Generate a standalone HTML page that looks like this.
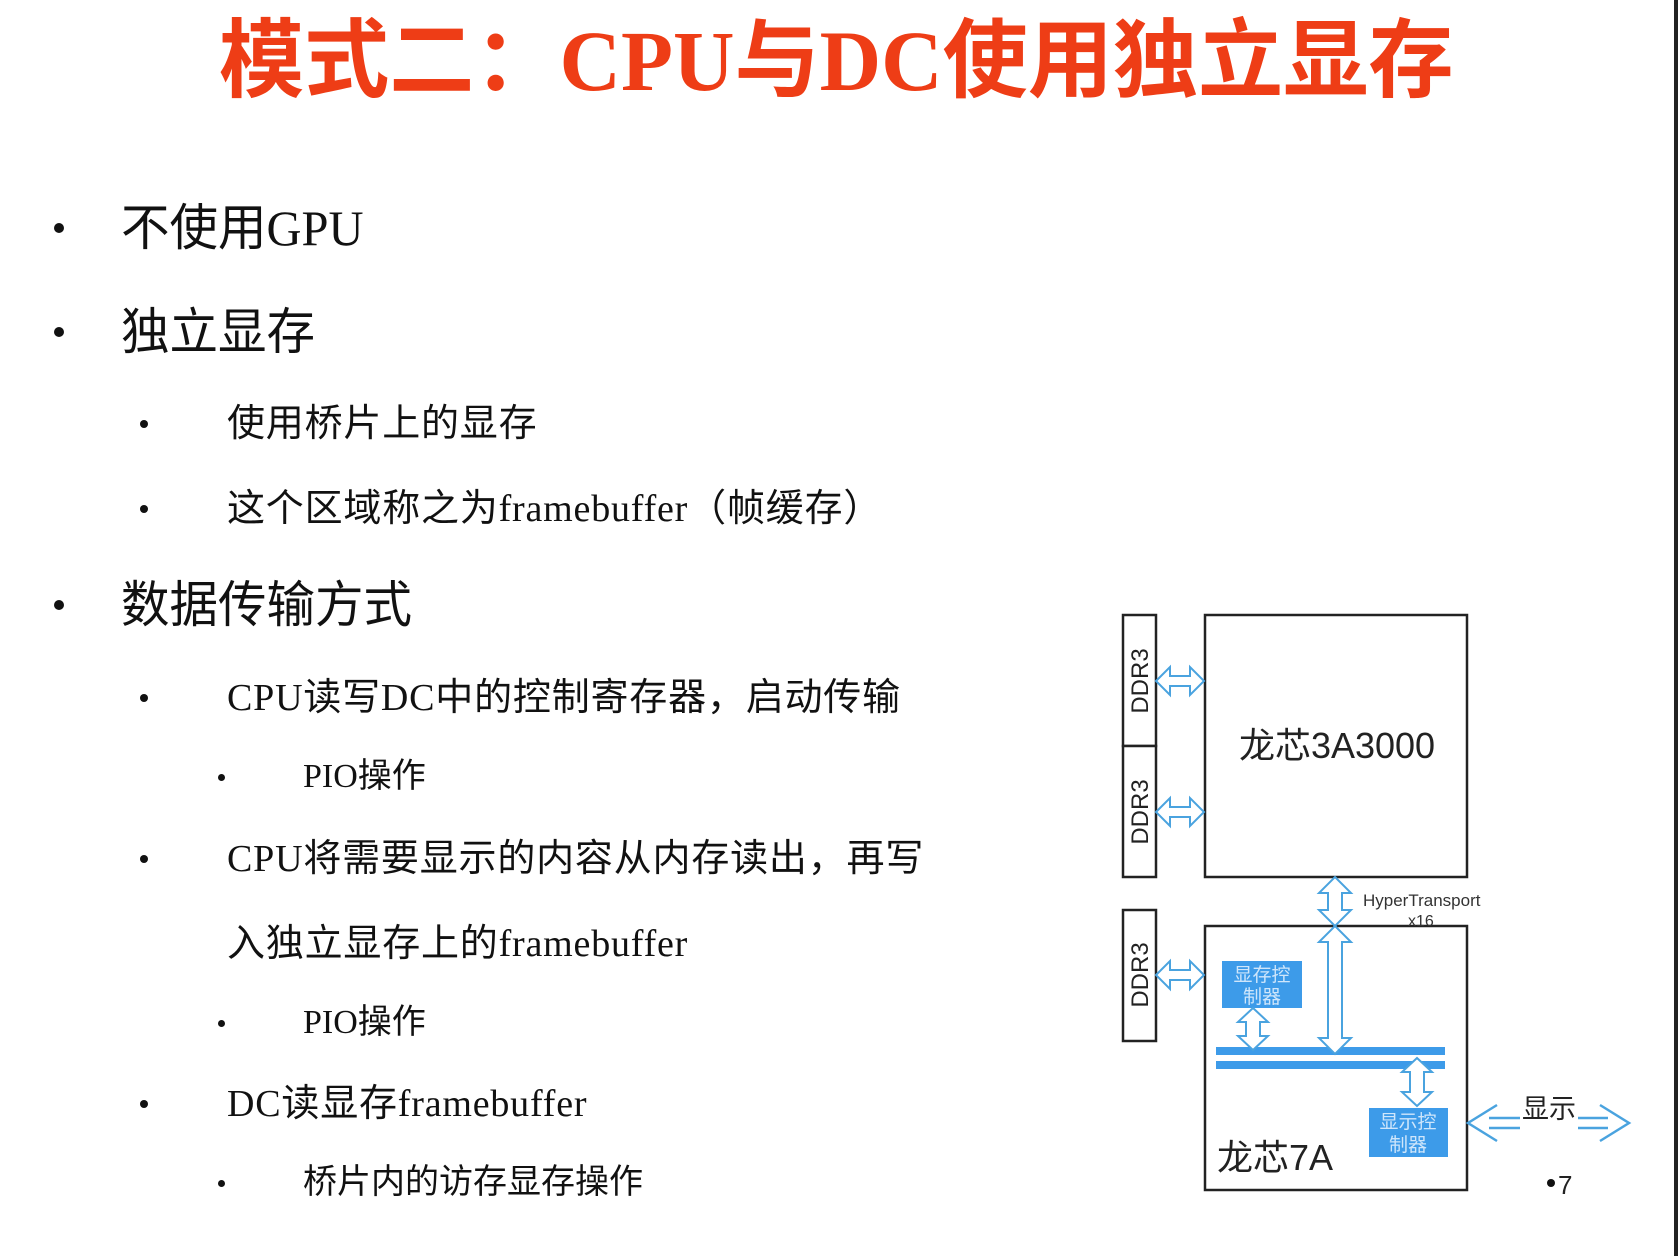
<!DOCTYPE html>
<html><head><meta charset="utf-8"><style>
body{margin:0;width:1678px;height:1256px;background:#fff;position:relative;overflow:hidden;font-family:"Liberation Serif","Noto Sans CJK SC",serif;color:#111}
.t{position:absolute;white-space:nowrap;line-height:1}
.title{left:219px;top:18px;font-size:86px;color:#ee3d16;transform:scaleX(0.99);transform-origin:left;font-weight:bold}
.l1{font-size:50px;transform:scaleX(0.97);transform-origin:left}
.l2{font-size:38px;letter-spacing:0.8px}
.l3{font-size:34px}
.b{position:absolute;border-radius:50%;background:#111}
</style></head><body>
<div class="t title">模式二：CPU与DC使用独立显存</div>

<div class="b" style="left:54px;top:223px;width:10px;height:10px"></div>
<div class="t l1" style="left:121px;top:203px">不使用GPU</div>
<div class="b" style="left:54px;top:327px;width:10px;height:10px"></div>
<div class="t l1" style="left:121px;top:307px">独立显存</div>
<div class="b" style="left:140px;top:420px;width:8px;height:8px"></div>
<div class="t l2" style="left:227px;top:405px">使用桥片上的显存</div>
<div class="b" style="left:140px;top:505px;width:8px;height:8px"></div>
<div class="t l2" style="left:227px;top:490px">这个区域称之为framebuffer（帧缓存）</div>
<div class="b" style="left:54px;top:600px;width:10px;height:10px"></div>
<div class="t l1" style="left:121px;top:580px">数据传输方式</div>
<div class="b" style="left:140px;top:694px;width:8px;height:8px"></div>
<div class="t l2" style="left:227px;top:679px">CPU读写DC中的控制寄存器，启动传输</div>
<div class="b" style="left:218px;top:774px;width:7px;height:7px"></div>
<div class="t l3" style="left:303px;top:760px">PIO操作</div>
<div class="b" style="left:140px;top:855px;width:8px;height:8px"></div>
<div class="t l2" style="left:227px;top:840px">CPU将需要显示的内容从内存读出，再写</div>
<div class="t l2" style="left:227px;top:925px">入独立显存上的framebuffer</div>
<div class="b" style="left:218px;top:1020px;width:7px;height:7px"></div>
<div class="t l3" style="left:303px;top:1006px">PIO操作</div>
<div class="b" style="left:140px;top:1100px;width:8px;height:8px"></div>
<div class="t l2" style="left:227px;top:1085px">DC读显存framebuffer</div>
<div class="b" style="left:218px;top:1180px;width:7px;height:7px"></div>
<div class="t l3" style="left:303px;top:1166px">桥片内的访存显存操作</div>

<div style="position:absolute;left:1674px;top:0;width:4px;height:1256px;background:#222"></div>

<svg width="1678" height="1256" style="position:absolute;left:0;top:0" font-family="Liberation Sans, Noto Sans CJK SC, sans-serif">
<g fill="#fff" stroke="#222" stroke-width="2.5">
<rect x="1123" y="615" width="33" height="131"/>
<rect x="1123" y="746" width="33" height="131"/>
<rect x="1205" y="615" width="262" height="262"/>
<rect x="1123" y="910" width="33" height="131"/>
<rect x="1205" y="926" width="262" height="264"/>
</g>
<g font-size="24" fill="#222">
<text transform="translate(1148,681) rotate(-90)" text-anchor="middle">DDR3</text>
<text transform="translate(1148,812) rotate(-90)" text-anchor="middle">DDR3</text>
<text transform="translate(1148,975) rotate(-90)" text-anchor="middle">DDR3</text>
</g>
<text x="1337" y="758" font-size="36" text-anchor="middle" fill="#222">龙芯3A3000</text>
<text x="1217" y="1170" font-size="36" fill="#222">龙芯7A</text>
<text x="1363" y="906" font-size="17" fill="#333">HyperTransport</text>
<text x="1408" y="926" font-size="16" fill="#333">x16</text>
<rect x="1222" y="961" width="80" height="47" fill="#3d9be9"/>
<text x="1262" y="981" font-size="19" fill="#cfe6fb" text-anchor="middle">显存控</text>
<text x="1262" y="1003" font-size="19" fill="#cfe6fb" text-anchor="middle">制器</text>
<rect x="1369" y="1108" width="79" height="49" fill="#3d9be9"/>
<text x="1408" y="1128" font-size="19" fill="#cfe6fb" text-anchor="middle">显示控</text>
<text x="1408" y="1151" font-size="19" fill="#cfe6fb" text-anchor="middle">制器</text>
<rect x="1216" y="1047" width="229" height="8" fill="#3d9be9"/>
<rect x="1216" y="1061" width="229" height="8" fill="#3d9be9"/>
<g fill="#fff" stroke="#4aa3df" stroke-width="2">
<polygon points="1156,681 1170,667 1170,676 1190,676 1190,667 1204,681 1190,695 1190,686 1170,686 1170,695"/>
<polygon points="1156,812 1170,798 1170,807 1190,807 1190,798 1204,812 1190,826 1190,817 1170,817 1170,826"/>
<polygon points="1156,975 1170,961 1170,970 1190,970 1190,961 1204,975 1190,989 1190,980 1170,980 1170,989"/>
<polygon points="1335,877 1351,893 1342,893 1342,910 1351,910 1335,926 1319,910 1328,910 1328,893 1319,893"/>
<polygon points="1335,926 1351,942 1342,942 1342,1038 1351,1038 1335,1054 1319,1038 1328,1038 1328,942 1319,942"/>
<polygon points="1253,1008 1268,1022 1260,1022 1260,1036 1268,1036 1253,1050 1238,1036 1246,1036 1246,1022 1238,1022"/>
<polygon points="1417,1058 1432,1072 1424,1072 1424,1092 1432,1092 1417,1106 1402,1092 1410,1092 1410,1072 1402,1072"/>
</g>
<g fill="none" stroke="#4aa3df" stroke-width="2.5">
<polyline points="1497,1105 1468,1123 1497,1141"/>
<polyline points="1489,1118 1520,1118"/><polyline points="1489,1128 1520,1128"/>
<polyline points="1600,1105 1629,1123 1600,1141"/>
<polyline points="1578,1118 1608,1118"/><polyline points="1578,1128 1608,1128"/>
</g>
<text x="1522" y="1118" font-size="27" fill="#222">显示</text>
<circle cx="1551" cy="1183" r="4" fill="#111"/>
<text x="1558" y="1194" font-size="26" fill="#222">7</text>
</svg>
</body></html>
